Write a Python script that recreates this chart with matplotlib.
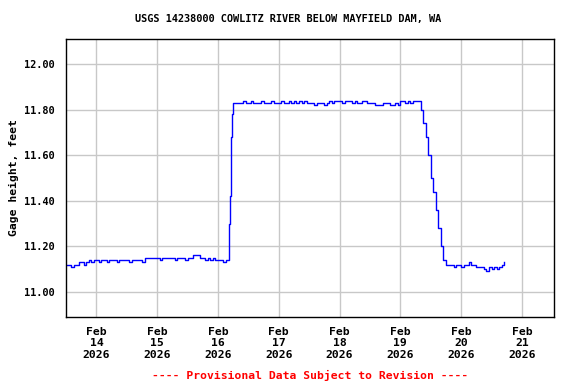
import numpy as np
import pandas as pd
import matplotlib
matplotlib.use("Agg")
import matplotlib.pyplot as plt
import matplotlib.dates as mdates

# gage height, feet -- hourly readings starting Feb 13 12:00
before_rise = [
    11.12, 11.12, 11.11, 11.12, 11.12, 11.13, 11.13, 11.12, 11.13, 11.14, 11.13, 11.14,
    11.14, 11.13, 11.14, 11.14, 11.13, 11.14, 11.14, 11.14, 11.13, 11.14, 11.14, 11.14,
    11.14, 11.13, 11.14, 11.14, 11.14, 11.14, 11.13, 11.15, 11.15, 11.15, 11.15, 11.15,
    11.15, 11.14, 11.15, 11.15, 11.15, 11.15, 11.15, 11.14, 11.15, 11.15, 11.15, 11.14,
    11.15, 11.15, 11.16, 11.16, 11.16, 11.15, 11.15, 11.14, 11.15, 11.14, 11.15, 11.14,
    11.14, 11.14, 11.13, 11.14, 11.14,
]
# 15-minute readings during the rise, Feb 16 04:15 onward
rise = [11.20, 11.30, 11.42, 11.55, 11.68, 11.78, 11.82]
# hourly again from Feb 16 06:00
plateau_and_fall = [
    11.83, 11.83, 11.83, 11.83, 11.84, 11.83, 11.83, 11.84, 11.83, 11.83, 11.83, 11.84,
    11.83, 11.83, 11.83, 11.84, 11.83, 11.83,
    11.83, 11.84, 11.83, 11.83, 11.84, 11.83, 11.84, 11.83, 11.84, 11.83, 11.84, 11.83,
    11.83, 11.83, 11.82, 11.83, 11.83, 11.83, 11.82, 11.83, 11.84, 11.83, 11.84, 11.84,
    11.84, 11.83, 11.84, 11.84, 11.84, 11.83, 11.84, 11.83, 11.83, 11.84, 11.84, 11.83,
    11.83, 11.83, 11.82, 11.82, 11.82, 11.83, 11.83, 11.83, 11.82, 11.82, 11.83, 11.82,
    11.84, 11.84, 11.83, 11.84, 11.83, 11.84, 11.84, 11.84,
    11.80, 11.74, 11.68, 11.60, 11.50, 11.44, 11.36, 11.28, 11.20, 11.14, 11.12,
    11.12, 11.12, 11.11, 11.12, 11.12, 11.11, 11.12, 11.12, 11.13, 11.12, 11.12, 11.11,
    11.11, 11.11, 11.10, 11.09, 11.11, 11.10, 11.11, 11.10, 11.11, 11.12, 11.13,
]

t1 = pd.date_range("2026-02-13 12:00", periods=len(before_rise), freq="h")
t2 = pd.date_range("2026-02-16 04:15", periods=len(rise), freq="15min")
t3 = pd.date_range("2026-02-16 06:00", periods=len(plateau_and_fall), freq="h")
times = t1.append(t2).append(t3)
gage = before_rise + rise + plateau_and_fall

title = "USGS 14238000 COWLITZ RIVER BELOW MAYFIELD DAM, WA"
footer = "---- Provisional Data Subject to Revision ----"
day_ticks = pd.date_range("2026-02-14", "2026-02-21", freq="D")
y_ticks = [11.0, 11.2, 11.4, 11.6, 11.8, 12.0]

font = {"family": "DejaVu Sans Mono", "weight": "bold", "size": 7.4}
big = dict(font, size=8.2)

fig = plt.figure(figsize=(5.76, 3.84), dpi=100)
ax = fig.add_axes([66 / 576, 1 - 317 / 384, (554 - 66) / 576, (317 - 39) / 384])

ax.step(times, gage, where="post", color="#0000ff", linewidth=1.0)

ax.set_xlim(pd.Timestamp("2026-02-13 12:00"), pd.Timestamp("2026-02-21 12:40"))
ax.set_ylim(10.89, 12.11)
ax.set_xticks(day_ticks)
ax.set_xticklabels([d.strftime("%b\n%d\n%Y") for d in day_ticks], fontdict=big,
                   linespacing=1.18)
ax.set_yticks(y_ticks)
ax.set_yticklabels(["%.2f" % v for v in y_ticks], fontdict=font)
ax.tick_params(length=0)
ax.tick_params(axis="y", pad=8)
ax.tick_params(axis="x", pad=7)
ax.grid(True, color="#c8c8c8", linewidth=1.0)
ax.set_axisbelow(True)
for s in ax.spines.values():
    s.set_linewidth(1.0)
    s.set_color("black")

ax.set_ylabel("Gage height, feet", fontdict=big, labelpad=4)
fig.text(0.5, 1 - 19 / 384, title, ha="center", va="center", **font)
fig.text(310 / 576, 1 - 375 / 384, footer, ha="center", va="center", color="red", **big)

fig.savefig("out.png", dpi=100)
